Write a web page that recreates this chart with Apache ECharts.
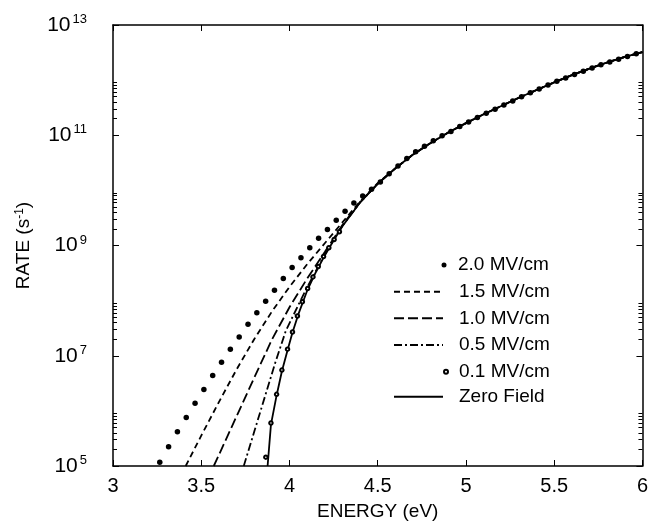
<!DOCTYPE html>
<html><head><meta charset="utf-8">
<script src="https://cdn.jsdelivr.net/npm/echarts@6/dist/echarts.min.js"></script>
<style>html,body{margin:0;padding:0;background:#fff}#c{width:651px;height:527px}</style>
</head><body><div id="c"></div>
<script>
const FONT = '"Liberation Sans", Arial, Helvetica, sans-serif';

// axis ticks
const xTickValues = [3, 3.5, 4, 4.5, 5, 5.5, 6];
const yTickExponents = [5, 7, 9, 11, 13];
const yMinorDecades = [5, 7, 9, 11];
const yMinorMultipliers = [2, 3, 4, 5, 6, 7, 8, 9];

const seriesNames = ['2.0 MV/cm', '1.5 MV/cm', '1.0 MV/cm', '0.5 MV/cm', '0.1 MV/cm', 'Zero Field'];

// energies (eV) and log10 of rate (s^-1)
const energy20 = [3.265,3.315,3.365,3.415,3.465,3.515,3.565,3.615,3.665,3.715,3.765,3.815,3.865,3.915,3.965,4.015,4.065,4.115,4.165,4.215,4.265,4.315,4.365,4.415,4.465,4.515,4.565,4.615,4.665,4.715,4.765,4.815,4.865,4.915,4.965,5.015,5.065,5.115,5.165,5.215,5.265,5.315,5.365,5.415,5.465,5.515,5.565,5.615,5.665,5.715,5.765,5.815,5.865,5.915,5.965];
const logRate20 = [5.07,5.35,5.62,5.88,6.14,6.39,6.64,6.88,7.12,7.34,7.57,7.78,7.99,8.19,8.40,8.60,8.78,8.96,9.13,9.29,9.46,9.62,9.77,9.90,10.02,10.15,10.30,10.44,10.58,10.70,10.80,10.90,10.99,11.07,11.16,11.24,11.32,11.40,11.47,11.55,11.62,11.70,11.77,11.84,11.91,11.98,12.04,12.10,12.16,12.22,12.28,12.33,12.38,12.43,12.48];

const energy15 = [3.412,3.5,3.6,3.7,3.8,3.9,4.0,4.1,4.2,4.3,4.4,4.5,4.6,4.7,4.8,4.9,5.0,5.1,5.2,5.3,5.4,5.5,5.6,5.7,5.8,5.9,6.0];
const logRate15 = [5.0,5.55,6.16,6.75,7.30,7.80,8.25,8.66,9.04,9.42,9.80,10.13,10.40,10.65,10.86,11.05,11.22,11.38,11.53,11.68,11.82,11.96,12.09,12.21,12.32,12.42,12.51];

const energy10 = [3.571,3.6,3.7,3.8,3.9,4.0,4.1,4.2,4.3,4.4,4.5,4.6,4.7,4.8,4.9,5.0,5.1,5.2,5.3,5.4,5.5,5.6,5.7,5.8,5.9,6.0];
const logRate10 = [5.0,5.20,5.90,6.60,7.29,7.88,8.40,8.88,9.37,9.79,10.12,10.40,10.65,10.86,11.05,11.22,11.38,11.53,11.68,11.82,11.96,12.09,12.21,12.32,12.42,12.51];

const energy05 = [3.741,3.8,3.861,3.92,3.979,4.05,4.1,4.2,4.3,4.4,4.5,4.6,4.7,4.8,4.9,5.0,5.1,5.2,5.3,5.4,5.5,5.6,5.7,5.8,5.9,6.0];
const logRate05 = [5.0,5.62,6.26,6.88,7.45,7.92,8.24,8.84,9.36,9.78,10.12,10.40,10.65,10.86,11.05,11.22,11.38,11.53,11.68,11.82,11.96,12.09,12.21,12.32,12.42,12.51];

const energy01 = [3.866,3.895,3.927,3.957,3.989,4.017,4.045,4.073,4.103,4.133,4.163,4.193,4.223,4.253,4.283];
const logRate01 = [5.16,5.78,6.30,6.74,7.12,7.43,7.72,7.98,8.22,8.43,8.62,8.80,8.96,9.11,9.25];

const energy0 = [3.876,3.895,3.927,3.957,3.989,4.017,4.05,4.1,4.15,4.2,4.25,4.3,4.4,4.5,4.6,4.7,4.8,4.9,5.0,5.1,5.2,5.3,5.4,5.5,5.6,5.7,5.8,5.9,6.0];
const logRate0 = [5.0,5.75,6.28,6.72,7.10,7.42,7.75,8.18,8.52,8.82,9.09,9.35,9.78,10.12,10.40,10.65,10.86,11.05,11.22,11.38,11.53,11.68,11.82,11.96,12.09,12.21,12.32,12.42,12.51];

const pairs = (e, l) => e.map((x, i) => [x, Math.pow(10, l[i])]);
const majorY = yTickExponents.map(p => Math.pow(10, p));
const minorY = [];
yMinorDecades.forEach(p => yMinorMultipliers.forEach(m => minorY.push(m * Math.pow(10, p))));

const black = '#000';
const lineW = 1.8;

const legendRows = [265, 291.7, 318.3, 345, 371.7, 396.7];
function lineLegend(name, row) {
  return { data: [name], left: 393, top: row - 11, padding: 0, itemWidth: 49, itemHeight: 12,
    selectedMode: false, itemStyle: { opacity: 0 },
    textStyle: { fontFamily: FONT, fontSize: 19, color: black, padding: [0, 0, 0, 11], lineHeight: 22 } };
}
function dotLegend(name, row, size, cx) {
  const left = cx - size / 2;
  return { data: [name], left: left, top: row - 11, padding: 0, itemWidth: size, itemHeight: size,
    selectedMode: false,
    textStyle: { fontFamily: FONT, fontSize: 19, color: black, padding: [0, 0, 0, 458 - left - size - 5], lineHeight: 22 } };
}

const option = {
  animation: false,
  backgroundColor: '#fff',
  textStyle: { fontFamily: FONT },
  grid: { left: 113, right: 6, top: 25, bottom: 61, containLabel: false },
  legend: [
    dotLegend(seriesNames[0], legendRows[0], 5, 444),
    lineLegend(seriesNames[1], legendRows[1]),
    lineLegend(seriesNames[2], legendRows[2]),
    lineLegend(seriesNames[3], legendRows[3]),
    dotLegend(seriesNames[4], legendRows[4], 4, 445),
    lineLegend(seriesNames[5], legendRows[5])
  ],
  xAxis: [
    { type: 'value', min: 3, max: 6, interval: 0.5, position: 'bottom',
      axisLine: { lineStyle: { color: black, width: 1.5 } },
      axisTick: { inside: true, length: 6, lineStyle: { color: black, width: 1 } },
      axisLabel: { fontFamily: FONT, fontSize: 20, color: black, margin: 10,
        customValues: xTickValues, formatter: v => String(v) },
      splitLine: { show: false },
      name: 'ENERGY (eV)', nameLocation: 'middle', nameGap: 36,
      nameTextStyle: { fontFamily: FONT, fontSize: 19, color: black } },
    { type: 'value', min: 3, max: 6, interval: 0.5, position: 'top',
      axisLine: { lineStyle: { color: black, width: 1.5 } },
      axisTick: { inside: true, length: 6, lineStyle: { color: black, width: 1 } },
      axisLabel: { show: false }, splitLine: { show: false } }
  ],
  yAxis: [
    { type: 'log', logBase: 10, min: 1e5, max: 1e13, position: 'left',
      axisLine: { lineStyle: { color: black, width: 1.5 } },
      axisTick: { inside: true, length: 6, customValues: majorY, lineStyle: { color: black, width: 1 } },
      minorTick: { show: false },
      axisLabel: { customValues: majorY, margin: 26, color: black,
        formatter: v => '{b|10}{s|' + Math.round(Math.log10(v)) + '}',
        rich: { b: { fontFamily: FONT, fontSize: 21, color: black, lineHeight: 24 },
                s: { fontFamily: FONT, fontSize: 13, color: black, verticalAlign: 'top', lineHeight: 11, padding: [0, 0, 0, 2] } } },
      splitLine: { show: false },
      name: 'RATE (s{s|-1})', nameLocation: 'middle', nameGap: 80,
      nameTextStyle: { fontFamily: FONT, fontSize: 19, color: black,
        rich: { s: { fontFamily: FONT, fontSize: 12, color: black, verticalAlign: 'top', lineHeight: 12 } } } },
    { type: 'log', logBase: 10, min: 1e5, max: 1e13, position: 'right',
      axisLine: { lineStyle: { color: black, width: 1.5 } },
      axisTick: { inside: true, length: 6, customValues: majorY, lineStyle: { color: black, width: 1 } },
      axisLabel: { show: false }, splitLine: { show: false } },
    { type: 'log', logBase: 10, min: 1e5, max: 1e13, position: 'left',
      axisLine: { show: false },
      axisTick: { inside: true, length: 4, customValues: minorY, lineStyle: { color: black, width: 1 } },
      axisLabel: { show: false }, splitLine: { show: false } },
    { type: 'log', logBase: 10, min: 1e5, max: 1e13, position: 'right',
      axisLine: { show: false },
      axisTick: { inside: true, length: 4, customValues: minorY, lineStyle: { color: black, width: 1 } },
      axisLabel: { show: false }, splitLine: { show: false } }
  ],
  series: [
    { name: seriesNames[0], type: 'scatter', data: pairs(energy20, logRate20),
      symbol: 'circle', symbolSize: 5.5, itemStyle: { color: black, opacity: 1 }, z: 5 },
    { name: seriesNames[1], type: 'line', data: pairs(energy15, logRate15), symbol: 'none',
      smooth: false,
      lineStyle: { color: black, width: lineW, type: [6, 4] }, itemStyle: { color: black } },
    { name: seriesNames[2], type: 'line', data: pairs(energy10, logRate10), symbol: 'none',
      smooth: false,
      lineStyle: { color: black, width: lineW, type: [10, 4] }, itemStyle: { color: black } },
    { name: seriesNames[3], type: 'line', data: pairs(energy05, logRate05), symbol: 'none',
      smooth: false,
      lineStyle: { color: black, width: lineW, type: [8, 3, 2, 3] }, itemStyle: { color: black } },
    { name: seriesNames[4], type: 'scatter', data: pairs(energy01, logRate01),
      symbol: 'emptyCircle', symbolSize: 3.5, itemStyle: { color: black, borderColor: black, borderWidth: 0.8, opacity: 1 }, z: 6 },
    { name: seriesNames[5], type: 'line', data: pairs(energy0, logRate0), symbol: 'none',
      smooth: false,
      lineStyle: { color: black, width: lineW, type: 'solid' }, itemStyle: { color: black } }
  ]
};
const chart = echarts.init(document.getElementById('c'), null, { renderer: 'canvas' });
chart.setOption(option);
</script></body></html>
